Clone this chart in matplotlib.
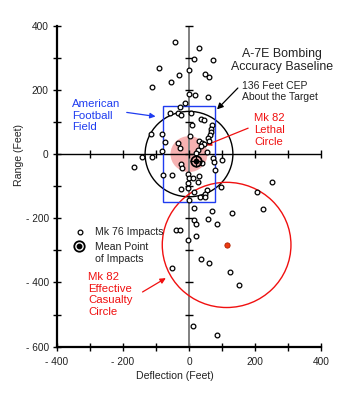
import numpy as np
import matplotlib
matplotlib.use("Agg")
import matplotlib.pyplot as plt
from matplotlib.patches import Circle, Rectangle

plt.rcParams['font.family'] = ['Liberation Sans', 'DejaVu Sans']

# ------------------------------------------------------------
# data (feet)
# ------------------------------------------------------------
impact_x = [-42, 29, 16, 74, -90, 1, -29, 50, 62, -55, -111, 0, 19, 59,
            -11, -27, -58, -32, -24, 5, 37, 45, 9, 70, 67, 68, 64, 58, 60,
            3, -115, -82, -73, -83, -142, -112, -32, -27, 30, 39, 45, 35,
            26, 21, 54, 74, 100, 77, 38, -25, -22, -166, -78, -52, 79, -3,
            0, 13, 31, 26, -2, -2, -24, 16, 56, 48, 33, 47, 1, 97, 252,
            205, 223, 15, 71, 131, 57, 16, 21, 84, -38, -26, 20, -2, 36,
            61, -52, 123, 152, 13, 86]
impact_y = [350, 332, 297, 294, 267, 261, 245, 248, 241, 223, 209, 188, 183,
            179, 159, 147, 129, 129, 121, 129, 110, 105, 92, 91, 78, 68, 59,
            49, 40, 56, 62, 61, 38, 9, -8, -8, 36, 19, 41, 36, 31, 25, 14, 3,
            5, -12, -17, -25, -28, -32, -42, -40, -66, -64, -50, -61, -73,
            -75, -69, -86, -90, -106, -110, -119, -112, -123, -135, -134,
            -142, -102, -86, -117, -172, -168, -178, -183, -201, -206, -219,
            -217, -235, -236, -256, -267, -326, -339, -356, -368, -407, -537,
            -563]

mpi = (20, -22)              # mean point of impacts
cep_radius = 133             # 136 ft CEP circle about the target
lethal_radius = 56           # Mk 82 lethal circle
casualty_center = (114, -283)
casualty_radius = 195        # Mk 82 effective casualty circle
field_x = (-80, 80)          # american football field
field_y = (-150, 150)

xticks = list(range(-400, 401, 100))
yticks = list(range(-600, 401, 100))
xlabels = ['- 400', '', '- 200', '', '0', '', '200', '', '400']
ylabels = ['- 600', '', '- 400', '', '- 200', '', '0', '', '200', '', '400']

BLUE = '#1f3cf0'
RED = '#f01010'
INK = '#222222'

# ------------------------------------------------------------
# figure
# ------------------------------------------------------------
fig = plt.figure(figsize=(3.51, 4.0), dpi=100)
ax = fig.add_axes([0.1624, 0.1333, 0.7521, 0.8025])
ax.set_xlim(-400, 400)
ax.set_ylim(-600, 400)

for s in ['top', 'right']:
    ax.spines[s].set_visible(False)
for s in ['left', 'bottom']:
    ax.spines[s].set_linewidth(1.6)

ax.set_xticks(xticks)
ax.set_xticklabels(xlabels)
ax.set_yticks(yticks)
ax.set_yticklabels(ylabels)
ax.tick_params(direction='inout', length=6, width=1, labelsize=7.3,
               colors='black', labelcolor=INK)
ax.tick_params(axis='x', pad=4.5)
ax.tick_params(axis='y', pad=3)

ax.set_xlabel('Deflection (Feet)', fontsize=7.6, color=INK)
ax.xaxis.set_label_coords(0.447, -0.075)
ax.set_ylabel('Range (Feet)', fontsize=7.6, color=INK)
ax.yaxis.set_label_coords(-0.125, 0.597)

# target cross-hair axes
ax.axhline(0, color='black', lw=1.0, zorder=2)
ax.axvline(0, color='#808080', lw=1.4, zorder=2)
ax.plot([t for t in xticks if t > -400], [0] * (len(xticks) - 1), ls='none',
        marker='|', ms=6, mew=1, color='black', zorder=2, clip_on=False)
ax.plot([0] * (len(yticks) - 1), [t for t in yticks if t > -600], ls='none',
        marker='_', ms=6, mew=1, color='black', zorder=2, clip_on=False)

# circles and field
ax.add_patch(Circle((0, 0), lethal_radius, fc='#f6b2b2', ec='none', zorder=1))
ax.add_patch(Circle((0, 0), cep_radius, fill=False, ec='black', lw=1.0, zorder=3))
ax.add_patch(Circle(casualty_center, casualty_radius, fill=False, ec=RED,
                    lw=1.0, zorder=3))
ax.add_patch(Rectangle((field_x[0], field_y[0]), field_x[1] - field_x[0],
                       field_y[1] - field_y[0], fill=False, ec=BLUE, lw=1.0,
                       zorder=3))

# impacts
ax.plot(impact_x, impact_y, ls='none', marker='o', ms=3.4, mfc='white',
        mec='black', mew=0.9, zorder=4)
ax.plot(*mpi, marker='o', ms=7.5, mfc='none', mec='black', mew=1.3, zorder=5)
ax.plot(*mpi, marker='o', ms=3.2, color='black', zorder=5)
ax.plot(*mpi, marker='+', ms=9, color='black', mew=0.8, zorder=5)
ax.plot(*casualty_center, marker='o', ms=3.8, mfc='#ee3a10', mec='#aa2000',
        mew=0.6, zorder=5)

# ------------------------------------------------------------
# annotations
# ------------------------------------------------------------
ax.text(282, 291, 'A-7E Bombing\nAccuracy Baseline', ha='center', va='center',
        fontsize=8.9, linespacing=1.12, color=INK)
ax.text(161, 195, '136 Feet CEP\nAbout the Target', ha='left', va='center',
        fontsize=7.5, linespacing=1.1, color=INK)
ax.annotate('', xy=(79, 133), xytext=(154, 212),
            arrowprops=dict(arrowstyle='-|>', color='black', lw=0.9,
                            mutation_scale=9))

ax.text(197, 75, 'Mk 82\nLethal\nCircle', ha='left', va='center',
        fontsize=8.1, linespacing=1.22, color=RED)
ax.annotate('', xy=(43, 24), xytext=(187, 84),
            arrowprops=dict(arrowstyle='-|>', color=RED, lw=0.9,
                            mutation_scale=8))

ax.text(-354, 119, 'American\nFootball\nField', ha='left', va='center',
        fontsize=8.2, linespacing=1.2, color=BLUE)
ax.annotate('', xy=(-93, 116), xytext=(-197, 131),
            arrowprops=dict(arrowstyle='-|>', color=BLUE, lw=0.9,
                            mutation_scale=8))

ax.text(-305, -438, 'Mk 82\nEffective\nCasualty\nCircle', ha='left',
        va='center', fontsize=8.2, linespacing=1.2, color=RED)
ax.annotate('', xy=(-63, -382), xytext=(-148, -434),
            arrowprops=dict(arrowstyle='-|>', color=RED, lw=0.9,
                            mutation_scale=8))

# legend (drawn by hand so the symbols sit on the first text line)
tr = ax.transAxes
ax.plot(0.087, 0.357, transform=tr, ls='none', marker='o', ms=3.4,
        mfc='white', mec='black', mew=0.9, clip_on=False)
ax.plot(0.083, 0.313, transform=tr, ls='none', marker='o', ms=7.5,
        mfc='none', mec='black', mew=1.3, clip_on=False)
ax.plot(0.083, 0.313, transform=tr, ls='none', marker='o', ms=3.2,
        color='black', clip_on=False)
ax.text(0.144, 0.357, 'Mk 76 Impacts', transform=tr, ha='left', va='center',
        fontsize=7.6, color=INK)
ax.text(0.144, 0.292, 'Mean Point\nof Impacts', transform=tr, ha='left',
        va='center', fontsize=7.6, linespacing=1.2, color=INK)

fig.savefig('out.png', dpi=100)
